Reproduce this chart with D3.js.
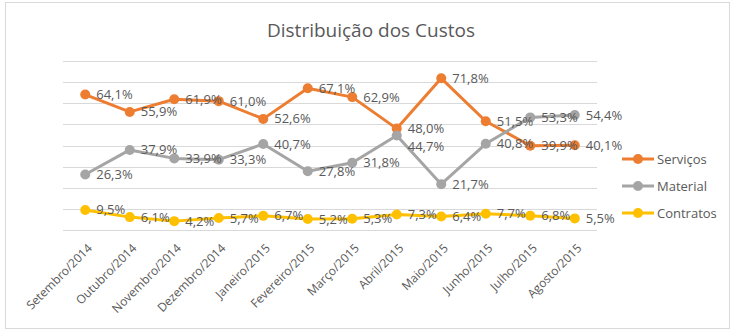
<!DOCTYPE html>
<html>
<head>
<meta charset="utf-8">
<script src="https://cdn.jsdelivr.net/npm/d3@7"></script>
<style>
  html, body { margin: 0; padding: 0; background: #fff; }
  svg { display: block; font-family: "Open Sans", "Liberation Sans", sans-serif; }
</style>
</head>
<body>
<svg id="chart" width="734" height="333"></svg>
<script>
const categories = ["Setembro/2014","Outubro/2014","Novembro/2014","Dezembro/2014","Janeiro/2015","Fevereiro/2015","Março/2015","Abril/2015","Maio/2015","Junho/2015","Julho/2015","Agosto/2015"];
const servicos  = [64.1, 55.9, 61.9, 61.0, 52.6, 67.1, 62.9, 48.0, 71.8, 51.5, 39.9, 40.1];
const material  = [26.3, 37.9, 33.9, 33.3, 40.7, 27.8, 31.8, 44.7, 21.7, 40.8, 53.3, 54.4];
const contratos = [9.5, 6.1, 4.2, 5.7, 6.7, 5.2, 5.3, 7.3, 6.4, 7.7, 6.8, 5.5];
const seriesNames = ["Serviços", "Material", "Contratos"];
const seriesColors = ["#ED7D31", "#A5A5A5", "#FFC000"];
const yTicks = [0, 10, 20, 30, 40, 50, 60, 70, 80];
const title = "Distribuição dos Custos";

const svg = d3.select("#chart");
const textColor = "#595959";
const gridColor = "#D9D9D9";

// outer border
svg.append("rect").attr("x", 5.5).attr("y", 2.5).attr("width", 724).attr("height", 326)
  .attr("fill", "#fff").attr("stroke", gridColor).attr("stroke-width", 1);

// title
svg.append("text").attr("x", 371).attr("y", 37).attr("text-anchor", "middle")
  .attr("font-size", 19).attr("fill", textColor).text(title);

const x = d3.scalePoint().domain(categories).range([63, 597]).padding(0.5);
const y = d3.scaleLinear().domain([0, 80]).range([230, 61]);

// gridlines
svg.append("g").selectAll("line").data(yTicks).join("line")
  .attr("x1", 63).attr("x2", 597)
  .attr("y1", d => Math.round(y(d)) + 0.5).attr("y2", d => Math.round(y(d)) + 0.5)
  .attr("stroke", gridColor).attr("stroke-width", 1);

// x axis labels
const xAxis = d3.axisBottom(x).tickSize(0).tickPadding(0);
const gx = svg.append("g").attr("transform", "translate(0,230)").call(xAxis);
gx.select(".domain").remove();
gx.selectAll("text")
  .attr("font-family", "\"Open Sans\", sans-serif")
  .attr("font-size", 12).attr("fill", textColor)
  .attr("text-anchor", "end")
  .attr("dy", null).attr("y", null)
  .attr("transform", "translate(7,19) rotate(-45)");

// series
const allSeries = [servicos, material, contratos];
const line = d3.line().x((d, i) => x(categories[i])).y(d => y(d));

allSeries.forEach((vals, si) => {
  const g = svg.append("g");
  g.append("path").datum(vals).attr("d", line)
    .attr("fill", "none").attr("stroke", seriesColors[si]).attr("stroke-width", 3)
    .attr("stroke-linejoin", "round");
  g.selectAll("circle").data(vals).join("circle")
    .attr("cx", (d, i) => x(categories[i])).attr("cy", d => y(d)).attr("r", 5)
    .attr("fill", seriesColors[si]);
});

// data labels with simple collision avoidance (per category)
const labelY = allSeries.map(vals => vals.map(v => y(v)));
categories.forEach((c, i) => {
  const order = allSeries.map((s, si) => si).sort((a, b) => labelY[a][i] - labelY[b][i]);
  for (let k = 1; k < order.length; k++) {
    const prev = labelY[order[k - 1]][i];
    if (labelY[order[k]][i] - prev < 18) labelY[order[k]][i] = prev + 18;
  }
});
allSeries.forEach((vals, si) => {
  svg.append("g").selectAll("text").data(vals).join("text")
    .attr("x", (d, i) => x(categories[i]) + 11).attr("y", (d, i) => labelY[si][i])
    .attr("dy", "0.35em").attr("font-size", 13).attr("fill", textColor)
    .text(d => d.toFixed(1).replace(".", ",") + "%");
});

// legend
const legend = svg.append("g");
seriesNames.forEach((name, i) => {
  const ly = 159 + i * 27;
  legend.append("line").attr("x1", 622).attr("x2", 654).attr("y1", ly).attr("y2", ly)
    .attr("stroke", seriesColors[i]).attr("stroke-width", 3);
  legend.append("circle").attr("cx", 638).attr("cy", ly).attr("r", 5).attr("fill", seriesColors[i]);
  legend.append("text").attr("x", 657).attr("y", ly).attr("dy", "0.35em")
    .attr("font-size", 13).attr("fill", textColor).text(name);
});
</script>
</body>
</html>
